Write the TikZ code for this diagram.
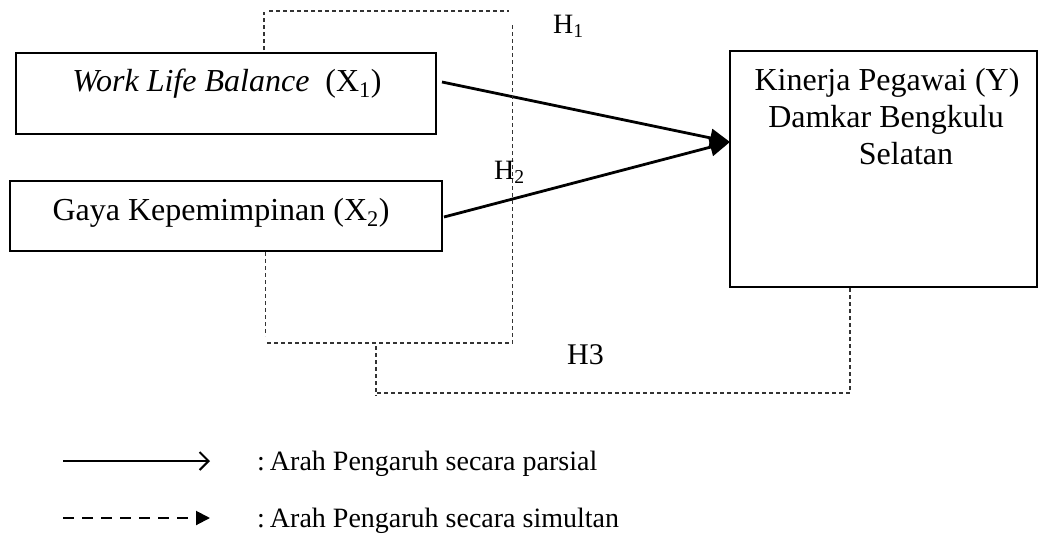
\documentclass[tikz,border=0pt]{standalone}
\usepackage{fontspec}
\setmainfont{Liberation Serif}
\usetikzlibrary{arrows.meta}
\begin{document}
\begin{tikzpicture}[x=1pt,y=-1pt,
  box/.style={draw, line width=2pt, inner sep=0pt},
  sim/.style={draw=black!80, line width=1.3pt, dash pattern=on 4pt off 3pt},
  par/.style={line width=2.8pt, -{Triangle[length=20pt,width=18pt]}},
  txt/.style={anchor=base, inner sep=0pt, font=\fontsize{32}{37}\selectfont},
  hl/.style={anchor=base west, inner sep=0pt, font=\fontsize{28}{32}\selectfont},
  lg/.style={anchor=base west, inner sep=0pt, font=\fontsize{28}{32}\selectfont}]
\useasboundingbox (0,0) rectangle (1038,544);
% boxes
\node[box, minimum width=420pt, minimum height=81.6pt] (x1) at (225.7,93.5) {};
\node[box, minimum width=432.6pt, minimum height=70.5pt] (x2) at (226,215.75) {};
\node[box, minimum width=306.5pt, minimum height=236.5pt] (y) at (883.25,168.75) {};
% box texts
\node[txt] (tx1) at (227,91.5) {\textit{Work Life Balance}\ \ (X\textsubscript{1})};
\node[txt] (tx2) at (221,220) {Gaya Kepemimpinan (X\textsubscript{2})};
\node[txt] (ty1) at (887,90) {Kinerja Pegawai (Y)};
\node[txt] (ty2) at (886,127) {Damkar Bengkulu};
\node[txt] (ty3) at (906,164) {Selatan};
% partial arrows
\coordinate (a1) at (442,82);
\coordinate (a2) at (444,217);
\coordinate (tip) at (730,142);
\draw[par] (a1) -- (tip);
\draw[par] (a2) -- (tip);
% simultaneous dashed brackets
\draw[sim] (264,50) -- (264,12);
\draw[sim] (269,11) -- (509,11);
\draw[sim] (512.7,25) -- (512.7,345);
\draw[sim] (265.5,252) -- (265.5,336);
\draw[sim] (267,343) -- (510,343);
\draw[sim] (376,346) -- (376,396);
\draw[sim] (377,393) -- (850,393) -- (850,288);
% hypothesis labels
\node[hl] (h1) at (553,33) {H\textsubscript{1}};
\node[hl] (h2) at (494,179) {H\textsubscript{2}};
\node[hl, font=\fontsize{30}{34}\selectfont] (h3) at (567,364) {H3};
% legend
\coordinate (l1s) at (63,461);
\coordinate (l1e) at (210,461);
\draw[line width=2pt, -{Straight Barb[length=9pt,width=18pt,line width=2pt]}] (l1s) -- (l1e);
\coordinate (l2s) at (63,518);
\coordinate (l2m) at (196,518);
\coordinate (l2e) at (210,518);
\draw[line width=2.2pt, dash pattern=on 11pt off 8pt] (l2s) -- (l2m);
\draw[line width=2pt, -{Triangle[length=14pt,width=14pt]}] (l2m) -- (l2e);
\node[lg] (lt1) at (257,470) {:\kern5pt Arah Pengaruh secara parsial};
\node[lg] (lt2) at (257,527) {:\kern5pt Arah Pengaruh secara simultan};
\end{tikzpicture}
\end{document}
